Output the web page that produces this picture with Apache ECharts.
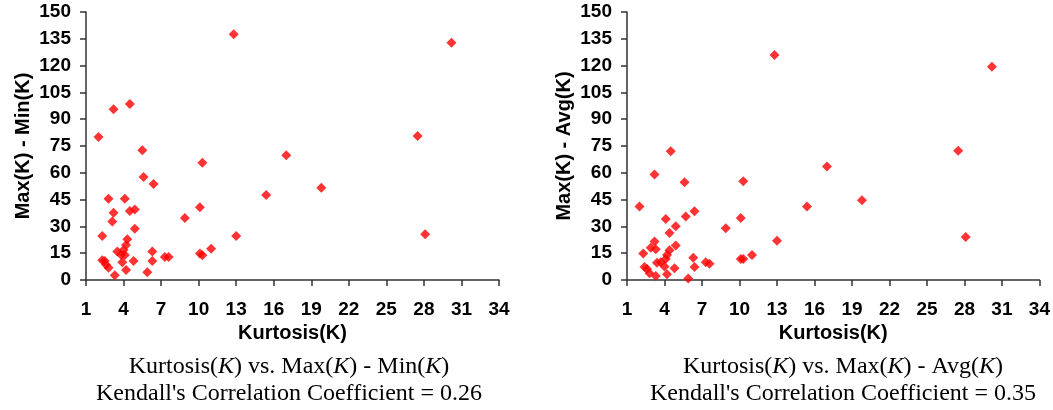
<!DOCTYPE html>
<html lang="en">
<head>
    <meta charset="utf-8">
    <title>Kurtosis scatter</title>
    <script src="https://cdn.jsdelivr.net/npm/echarts@6/dist/echarts.min.js"></script>
</head>
<body style="margin:0;background:#fff;">
    <div id="main" style="width:1053px;height:410px;"></div>

    <script type="text/javascript">
    // x tick labels (1..34 step 3)
    var xTicks = [1, 4, 7, 10, 13, 16, 19, 22, 25, 28, 31, 34];

    // Kurtosis(K) vs Max(K) - Min(K)
    var rangeData = [
        [12.8,137.5],[30.2,132.8],[4.5,98.5],[3.2,95.5],[2.0,80],[27.5,80.6],[5.5,72.6],[17.0,69.8],
        [10.3,65.6],[5.6,57.6],[6.4,53.7],[19.8,51.7],[15.4,47.6],[2.8,45.5],[4.1,45.5],[10.1,40.7],
        [3.2,37.7],[4.5,38.6],[4.9,39.5],[3.1,32.8],[8.9,34.7],[4.9,28.7],[2.3,24.6],[13.0,24.6],
        [28.1,25.6],[4.3,22.8],[4.2,19.6],[3.5,15.9],[4.0,16.8],[3.8,14.2],[4.1,14.0],[6.3,15.9],
        [11.0,17.5],[10.1,14.9],[10.3,13.8],[7.3,12.9],[7.6,12.9],[2.3,11.0],[2.5,10.6],[3.9,9.9],
        [4.8,10.6],[6.3,10.6],[2.6,8.6],[2.8,6.8],[4.2,5.6],[3.3,2.6],[5.9,4.4]
    ];

    // Kurtosis(K) vs Max(K) - Avg(K)
    var avgData = [
        [12.8,126],[30.2,119.3],[4.5,72.1],[3.2,59],[5.6,54.7],[10.3,55.3],[27.5,72.4],[17.0,63.5],
        [19.8,44.6],[15.4,41.1],[2.0,41.1],[6.4,38.5],[5.7,35.5],[4.1,34.2],[10.1,34.7],[8.9,29],
        [4.9,30.1],[4.4,26.3],[13.0,22],[28.1,24.1],[3.2,21.5],[4.9,19.3],[2.9,18.1],[3.3,17.2],
        [4.4,16.6],[2.3,14.8],[4.2,14.0],[11.0,14],[4.1,11.8],[6.3,12.4],[10.1,11.8],[10.3,11.8],
        [7.3,9.9],[7.6,9.1],[3.7,9.9],[3.4,9.7],[4.0,7.5],[6.4,7.3],[4.8,6.6],[2.4,7.3],
        [2.6,6.2],[2.8,3.8],[3.3,2.2],[4.2,3.2],[5.9,0.8]
    ];

    var captions = [
        ['Min', '0.26'],
        ['Avg', '0.35']
    ];

    var axisColor = '#333';
    var sans = "'Liberation Sans', Arial, sans-serif";
    var labelFont = { fontFamily: sans, fontWeight: 'bold', fontSize: 19, color: '#000' };
    var nameFont = { fontFamily: sans, fontWeight: 'bold', fontSize: 20, color: '#000' };

    function xAxisOpt(idx) {
        return {
            gridIndex: idx,
            type: 'value',
            min: 1,
            max: 34,
            name: 'Kurtosis(K)',
            nameLocation: 'middle',
            nameGap: 36,
            nameTextStyle: nameFont,
            splitLine: { show: false },
            axisLine: { lineStyle: { color: axisColor, width: 1.5 } },
            axisTick: { customValues: xTicks, length: 6, lineStyle: { color: axisColor, width: 1.5 } },
            axisLabel: Object.assign({ customValues: xTicks, margin: 20 }, labelFont)
        };
    }

    function yAxisOpt(idx, name) {
        return {
            gridIndex: idx,
            type: 'value',
            min: 0,
            max: 150,
            interval: 15,
            name: name,
            nameLocation: 'middle',
            nameGap: 53,
            nameTextStyle: nameFont,
            splitLine: { show: false },
            axisLine: { show: true, lineStyle: { color: axisColor, width: 1.5 } },
            axisTick: { show: true, length: 6, lineStyle: { color: axisColor, width: 1.5 } },
            axisLabel: Object.assign({ margin: 15 }, labelFont)
        };
    }

    function caption(c) {
        return '{n|Kurtosis(}{i|K}{n|) vs. Max(}{i|K}{n|) - ' + c[0] + '(}{i|K}{n|)}\n' +
            '{n|Kendall\'s Correlation Coefficient = ' + c[1] + '}';
    }

    var serif = "'Liberation Serif', 'Times New Roman', serif";
    var capStyle = {
        fontWeight: 'normal',
        rich: {
            n: { fontFamily: serif, fontSize: 24, fontWeight: 'normal', color: '#000', lineHeight: 27 },
            i: { fontFamily: serif, fontSize: 24, fontWeight: 'normal', fontStyle: 'italic', color: '#000', lineHeight: 27 }
        }
    };

    var myChart = echarts.init(document.getElementById('main'));

    myChart.setOption({
        animation: false,
        title: [
            { text: caption(captions[0]), left: 284, top: 348, textAlign: 'center', textStyle: capStyle },
            { text: caption(captions[1]), left: 838, top: 348, textAlign: 'center', textStyle: capStyle }
        ],
        grid: [
            { left: 86, right: 554, top: 12, bottom: 130 },
            { left: 627, right: 13, top: 12, bottom: 130 }
        ],
        xAxis: [xAxisOpt(0), xAxisOpt(1)],
        yAxis: [yAxisOpt(0, 'Max(K) - Min(K)'), yAxisOpt(1, 'Max(K) - Avg(K)')],
        series: [
            {
                type: 'scatter', xAxisIndex: 0, yAxisIndex: 0,
                symbol: 'diamond', symbolSize: 10,
                itemStyle: { color: '#ff0000' },
                data: rangeData
            },
            {
                type: 'scatter', xAxisIndex: 1, yAxisIndex: 1,
                symbol: 'diamond', symbolSize: 10,
                itemStyle: { color: '#ff0000' },
                data: avgData
            }
        ]
    });
    </script>
</body>
</html>
